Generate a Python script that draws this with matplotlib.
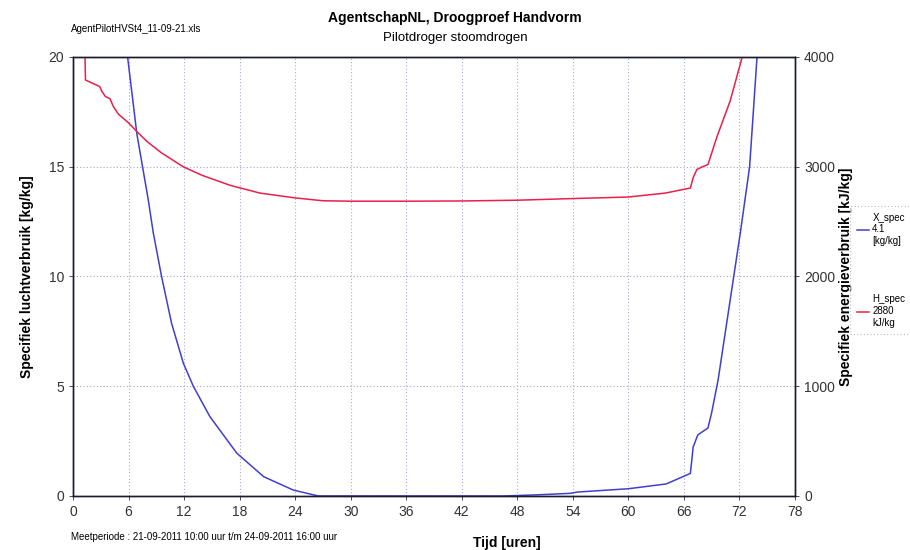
import matplotlib
matplotlib.use("Agg")
import matplotlib.pyplot as plt

plt.rcParams['font.family'] = ['Liberation Sans', 'DejaVu Sans']

# Specifiek luchtverbruik [kg/kg] (linker as)
x_tijd = [5.9, 6.9, 8.13, 8.67, 9.57, 10.65, 11.92, 13.0, 14.8, 17.7, 20.6, 23.8, 26.5,
          46.5, 50.0, 53.7, 54.5, 60.0, 64.1, 66.7, 67.0, 67.5, 68.6, 69.0, 69.7, 72.1, 73.1, 73.9]
x_spec = [20.0, 16.5, 13.5, 12.0, 10.0, 7.87, 6.05, 5.0, 3.61, 1.95, 0.88, 0.27, 0.0,
          0.0, 0.05, 0.12, 0.18, 0.33, 0.55, 1.03, 2.23, 2.78, 3.1, 3.8, 5.3, 12.0, 15.0, 20.0]

# Specifiek energieverbruik [kJ/kg] (rechter as)
h_tijd = [1.3, 1.35, 2.9, 3.1, 3.5, 4.0, 4.35, 4.9, 6.0, 6.9, 8.0, 9.5, 11.9, 14.0, 17.0,
          20.2, 24.0, 27.0, 30.0, 36.0, 42.0, 48.0, 52.0, 54.0, 60.0, 64.0, 66.7, 67.0,
          67.4, 68.0, 68.6, 69.6, 71.0, 72.3]
h_spec = [4000, 3790, 3730, 3690, 3640, 3620, 3550, 3480, 3400, 3320, 3230, 3130, 3000,
          2920, 2830, 2760, 2716, 2690, 2686, 2686, 2688, 2695, 2705, 2710, 2724, 2760,
          2806, 2900, 2975, 3000, 3020, 3280, 3600, 4000]

x_ticks = list(range(0, 79, 6))
legend_x = "X_spec\n4.1\n[kg/kg]"
legend_h = "H_spec\n2880\nkJ/kg"

fig = plt.figure(figsize=(9.1, 5.5), dpi=100)
ax = fig.add_axes([0.0802, 0.0982, 0.7934, 0.7982])
ax2 = ax.twinx()

blauw = '#3f3fd0'
rood = '#e8204a'
l1, = ax.plot(x_tijd, x_spec, color=blauw, lw=1.1, label=legend_x)
l2, = ax2.plot(h_tijd, h_spec, color=rood, lw=1.1, label=legend_h)

ax.set_xlim(0, 78)
ax.set_ylim(0, 20)
ax2.set_ylim(0, 4000)
ax.set_xticks(x_ticks)
ax.set_yticks([0, 5, 10, 15, 20])
ax2.set_yticks([0, 1000, 2000, 3000, 4000])

ax.grid(True, linestyle=(0, (1, 2)), color='#a8a8cc', lw=0.8)
for a in (ax, ax2):
    a.tick_params(labelsize=10, colors='#333333', length=3, width=0.6)
    for s in a.spines.values():
        s.set_color('#1a1a2e')
        s.set_linewidth(1.0)

ax.set_ylabel('Specifiek luchtverbruik [kg/kg]', fontsize=10, fontweight='bold', labelpad=10)
ax2.set_ylabel('Specifiek energieverbruik [kJ/kg]', fontsize=10, fontweight='bold', labelpad=3)

fig.text(0.5, 0.967, 'AgentschapNL, Droogproef Handvorm', ha='center', va='center',
         fontsize=10, fontweight='bold')
fig.text(0.5, 0.931, 'Pilotdroger stoomdrogen', ha='center', va='center', fontsize=9.5)
fig.text(0.078, 0.947, 'AgentPilotHVSt4_11-09-21.xls', ha='left', va='center', fontsize=7)
fig.text(0.078, 0.024, 'Meetperiode : 21-09-2011 10:00 uur t/m 24-09-2011 16:00 uur',
         ha='left', va='center', fontsize=7)
fig.text(0.557, 0.012, 'Tijd [uren]', ha='center', va='center', fontsize=10, fontweight='bold')

leg = fig.legend(handles=[l1, l2], loc='upper left', bbox_to_anchor=(0.934, 0.626),
                 fontsize=7, handlelength=1.3, handletextpad=0.3, labelspacing=5.0,
                 frameon=True, fancybox=False, borderpad=0.7, borderaxespad=0)
leg.get_frame().set_edgecolor('#aaaaaa')
leg.get_frame().set_linestyle((0, (1, 2)))
leg.get_frame().set_linewidth(0.8)

fig.savefig('out.png', dpi=100)
